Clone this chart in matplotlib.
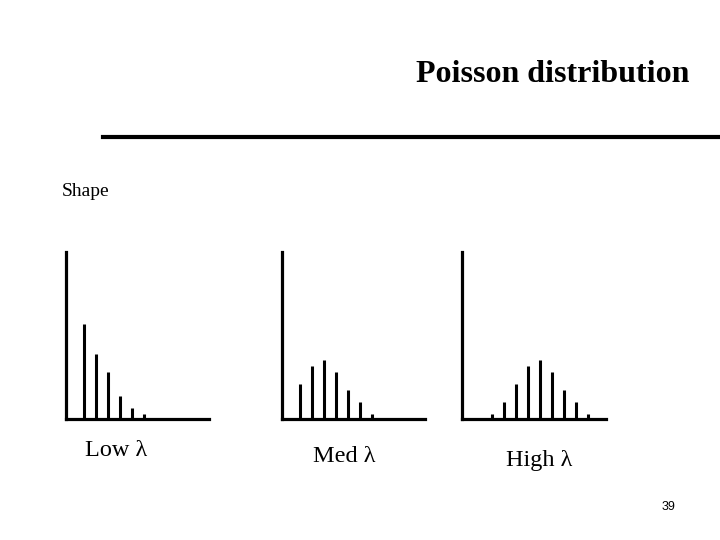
import matplotlib
matplotlib.use("Agg")
import matplotlib.pyplot as plt
from matplotlib.lines import Line2D

# bar heights (arbitrary units)
low_vals = [95, 65, 47, 23, 11, 5]
med_vals = [35, 53, 59, 47, 29, 17, 5]
high_vals = [5, 17, 35, 53, 59, 47, 29, 17, 5]
low_k = list(range(0, 6))
med_k = list(range(0, 7))
high_k = list(range(1, 10))
labels = ["Low \u03bb", "Med \u03bb", "High \u03bb"]

serif = ["Liberation Serif", "DejaVu Serif"]

fig = plt.figure(figsize=(7.2, 5.4), dpi=100)

# panel boxes in pixels: left, right, top, bottom
boxes = [(66, 209), (282, 425), (462, 606)]
top, bottom = 252, 419
panels = [(low_k, low_vals), (med_k, med_vals), (high_k, high_vals)]
label_pos = [(116, 456), (344, 462), (539, 466)]

for (l, r), (k, v), lab, (lx, ly) in zip(boxes, panels, labels, label_pos):
    ax = fig.add_axes([l / 720, 1 - bottom / 540, (r - l) / 720, (bottom - top) / 540])
    ax.vlines(k, 0, v, colors="black", linewidth=2.2)
    ax.set_xlim(-1.5, (r - l) / 12 - 1.5)
    ax.set_ylim(0, bottom - top)
    for s in ["top", "right"]:
        ax.spines[s].set_visible(False)
    for s in ["left", "bottom"]:
        ax.spines[s].set_linewidth(2.3)
    ax.set_xticks([])
    ax.set_yticks([])
    fig.text(lx / 720, 1 - ly / 540, lab, family=serif, fontsize=17.5,
             ha="center", va="baseline")

fig.text(553 / 720, 1 - 82 / 540, "Poisson distribution", family=serif,
         fontsize=23, fontweight="bold", ha="center", va="baseline")
fig.add_artist(Line2D([103 / 720, 1.0], [1 - 137 / 540, 1 - 137 / 540],
                      color="black", linewidth=3))
fig.text(62 / 720, 1 - 196 / 540, "Shape", family=serif, fontsize=14,
         ha="left", va="baseline")
fig.text(668 / 720, 1 - 510 / 540, "39", family=["Liberation Sans", "DejaVu Sans"],
         fontsize=9, ha="center", va="baseline")

fig.savefig("out.png", dpi=100)
